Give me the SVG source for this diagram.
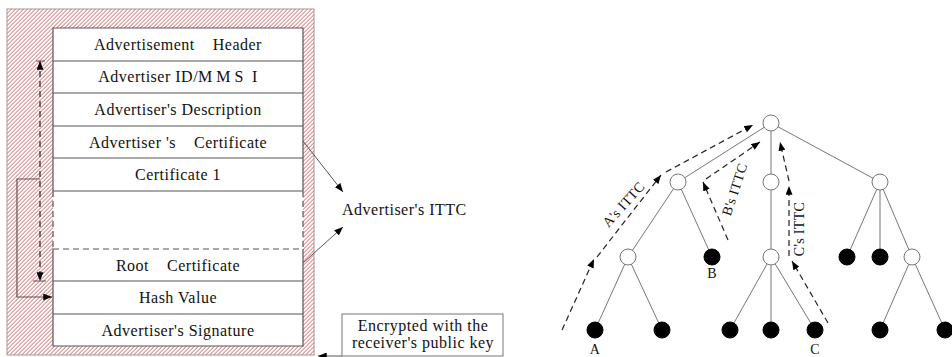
<svg xmlns="http://www.w3.org/2000/svg" width="952" height="357" viewBox="0 0 952 357">
<defs>
<pattern id="hatch" patternUnits="userSpaceOnUse" x="0" y="0" width="2.8284" height="2.8284" patternTransform="rotate(45)">
<rect width="2.8284" height="2.8284" fill="#ffffff"/>
<rect width="0.85" height="2.8284" fill="#dc6f6f"/>
</pattern>
<marker id="ah" viewBox="0 0 10 8" refX="10" refY="4" markerWidth="9" markerHeight="7" markerUnits="userSpaceOnUse" orient="auto-start-reverse">
<path d="M0,0 L10,4 L0,8 z" fill="#000"/>
</marker>
</defs>
<style>
text{font-family:"Liberation Serif","Times New Roman",serif;fill:#111;white-space:pre}
.row{font-size:16px;letter-spacing:0.5px;text-anchor:middle}
.lbl{font-size:14px;letter-spacing:0.3px;text-anchor:middle}
.edge{stroke:#777;stroke-width:1;fill:none}
.dash{stroke:#222;stroke-width:1.2;fill:none;stroke-dasharray:6,4}
.wn{fill:#fff;stroke:#777;stroke-width:1}
.bn{fill:#000;stroke:#000;stroke-width:1}
.rl{stroke:#555;stroke-width:1.2;fill:none}
.thin{stroke:#555;stroke-width:1;fill:none}
</style>

<g id="message">
<rect x="7" y="9" width="307" height="346" fill="url(#hatch)" stroke="#999" stroke-width="1"/>
<rect x="53" y="28" width="250" height="318" fill="#fff" stroke="none"/>
<path class="rl" d="M53,191 V28 H303 V191 M53,249 V346 H303 V249"/>
<path class="rl" d="M53,191 V249 M303,191 V249 M53,249 H303" stroke-dasharray="6,4"/>
<path class="rl" d="M53,61 H303 M53,93 H303 M53,126 H303 M53,158 H303 M53,191 H303 M53,281 H303 M53,314 H303"/>
<text class="row" x="178" y="50">Advertisement    Header</text>
<text class="row" x="178" y="82">Advertiser ID/<tspan letter-spacing="4">MMS</tspan> I</text>
<text class="row" x="178" y="115">Advertiser's Description</text>
<text class="row" x="178" y="148">Advertiser 's    Certificate</text>
<text class="row" x="178" y="180">Certificate 1</text>
<text class="row" x="178" y="271">Root    Certificate</text>
<text class="row" x="178" y="303">Hash Value</text>
<text class="row" x="178" y="336">Advertiser's Signature</text>
</g>

<g id="ittc-label">
<text x="342" y="215" style="font-size:16px;letter-spacing:0.5px">Advertiser's ITTC</text>
</g>

<g id="encrypted-box">
<rect x="342" y="314" width="161" height="42" fill="#fff" stroke="#777" stroke-width="1"/>
<text class="row" x="423" y="331">Encrypted with the</text>
<text class="row" x="423" y="348">receiver's public key</text>
</g>

<g id="tree-nodes">
<g class="edge">
<line x1="771" y1="123" x2="678" y2="182"/>
<line x1="771" y1="123" x2="771" y2="182"/>
<line x1="771" y1="123" x2="880" y2="182"/>
<line x1="678" y1="182" x2="628" y2="257"/>
<line x1="678" y1="182" x2="712" y2="257"/>
<line x1="771" y1="182" x2="771" y2="257"/>
<line x1="880" y1="182" x2="847" y2="257"/>
<line x1="880" y1="182" x2="880" y2="257"/>
<line x1="880" y1="182" x2="912" y2="257"/>
<line x1="628" y1="257" x2="595" y2="330"/>
<line x1="628" y1="257" x2="662" y2="330"/>
<line x1="771" y1="257" x2="730" y2="330"/>
<line x1="771" y1="257" x2="771" y2="330"/>
<line x1="771" y1="257" x2="815" y2="330"/>
<line x1="912" y1="257" x2="880" y2="330"/>
<line x1="912" y1="257" x2="945" y2="330"/>
</g>
<g id="n-root"><circle class="wn" cx="771" cy="123" r="8"/></g>
<g id="n-l1a"><circle class="wn" cx="678" cy="182" r="8"/></g>
<g id="n-l1b"><circle class="wn" cx="771" cy="182" r="8"/></g>
<g id="n-l1c"><circle class="wn" cx="880" cy="182" r="8"/></g>
<g id="n-l2a"><circle class="wn" cx="628" cy="257" r="8"/></g>
<g id="n-B"><circle class="bn" cx="712" cy="257" r="8"/><text class="lbl" x="712" y="278">B</text></g>
<g id="n-l2c"><circle class="wn" cx="771" cy="257" r="8"/></g>
<g id="n-l2d"><circle class="bn" cx="847" cy="257" r="8"/></g>
<g id="n-l2e"><circle class="bn" cx="880" cy="257" r="8"/></g>
<g id="n-l2f"><circle class="wn" cx="912" cy="257" r="8"/></g>
<g id="n-A"><circle class="bn" cx="595" cy="330" r="8"/><text class="lbl" x="595" y="354">A</text></g>
<g id="n-l3b"><circle class="bn" cx="662" cy="330" r="8"/></g>
<g id="n-l3c"><circle class="bn" cx="730" cy="330" r="8"/></g>
<g id="n-l3d"><circle class="bn" cx="771" cy="330" r="8"/></g>
<g id="n-C"><circle class="bn" cx="815" cy="330" r="8"/><text class="lbl" x="815" y="354">C</text></g>
<g id="n-l3f"><circle class="bn" cx="880" cy="330" r="8"/></g>
<g id="n-l3g"><circle class="bn" cx="945" cy="330" r="8"/></g>
</g>

<g id="connectors">
<line x1="40" y1="61" x2="40" y2="281" class="dash" marker-start="url(#ah)" marker-end="url(#ah)"/>
<line x1="36" y1="61" x2="45" y2="61" class="thin"/>
<line x1="33" y1="281" x2="46" y2="281" class="thin"/>
<path d="M40,179 H17 V297 H52" class="rl" marker-end="url(#ah)"/>
<line x1="303" y1="141" x2="343" y2="192" class="thin" marker-end="url(#ah)"/>
<line x1="303" y1="263" x2="343" y2="227" class="thin" marker-end="url(#ah)"/>
<line x1="342" y1="356" x2="318" y2="356" class="thin" marker-end="url(#ah)"/>
<line x1="562" y1="330" x2="594" y2="259" class="dash" marker-end="url(#ah)"/>
<line x1="597" y1="257" x2="661" y2="175" class="dash" marker-end="url(#ah)"/>
<line x1="666" y1="172" x2="753" y2="125" class="dash" marker-end="url(#ah)"/>
<line x1="728" y1="240" x2="703" y2="182" class="dash" marker-end="url(#ah)"/>
<line x1="706" y1="179" x2="760" y2="142" class="dash" marker-end="url(#ah)"/>
<line x1="828" y1="323" x2="792" y2="261" class="dash" marker-end="url(#ah)"/>
<line x1="789" y1="256" x2="789" y2="186" class="dash" marker-end="url(#ah)"/>
<line x1="789" y1="181" x2="780" y2="142" class="dash" marker-end="url(#ah)"/>
<text class="lbl" transform="translate(627,207.5) rotate(-48)">A's ITTC</text>
<text class="lbl" transform="translate(739,191) rotate(-72)">B's ITTC</text>
<text class="lbl" transform="translate(804,229) rotate(-90)">C's ITTC</text>
</g>
</svg>
